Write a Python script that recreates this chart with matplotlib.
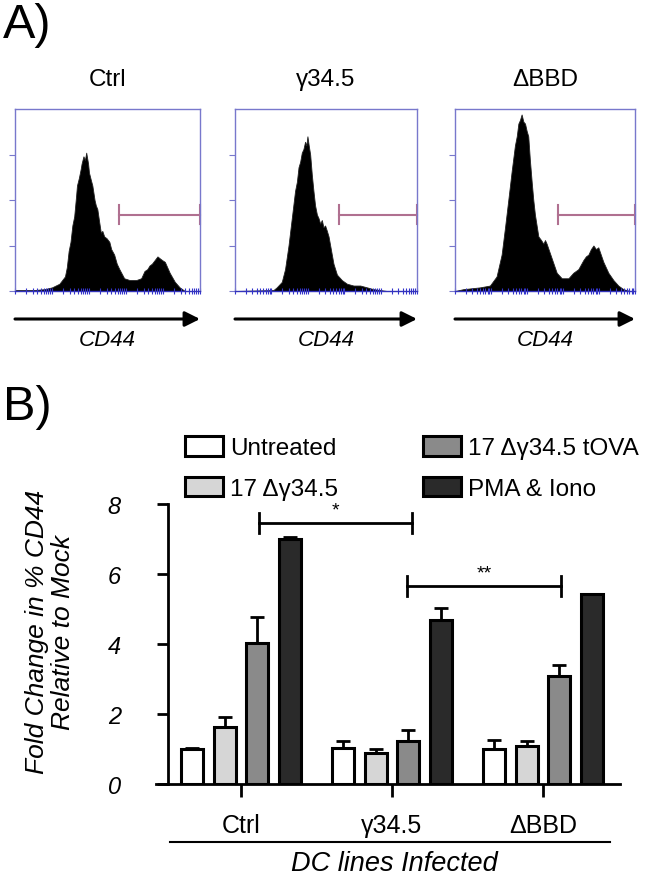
import numpy as np
import matplotlib
matplotlib.use("Agg")
import matplotlib.pyplot as plt
from matplotlib.lines import Line2D

plt.rcParams['font.family'] = ['Liberation Sans', 'DejaVu Sans']

# ---------------- data: panel A histograms (fraction of axis, relative count) ----------
hist_titles = ["Ctrl", "γ34.5", "ΔBBD"]
ctrl_x = [0.00, 0.10, 0.16, 0.20, 0.24, 0.27, 0.28, 0.29, 0.30, 0.31, 0.32, 0.33, 0.335, 0.345,
          0.355, 0.36, 0.37, 0.378, 0.385, 0.39, 0.395, 0.40, 0.41, 0.418, 0.43, 0.437, 0.445,
          0.455, 0.464, 0.472, 0.482, 0.495, 0.51, 0.52, 0.536, 0.55, 0.564, 0.59, 0.62, 0.655,
          0.682, 0.70, 0.715, 0.727, 0.74, 0.755, 0.77, 0.782, 0.795, 0.81, 0.836, 0.864, 0.89,
          0.918, 1.0]
ctrl_y = [0.005, 0.005, 0.01, 0.02, 0.04, 0.08, 0.13, 0.22, 0.27, 0.36, 0.41, 0.52, 0.58, 0.62,
          0.67, 0.70, 0.74, 0.72, 0.76, 0.73, 0.70, 0.65, 0.61, 0.58, 0.50, 0.47, 0.45,
          0.38, 0.32, 0.33, 0.30, 0.29, 0.27, 0.23, 0.20, 0.15, 0.12, 0.07, 0.06, 0.06,
          0.07, 0.11, 0.12, 0.14, 0.15, 0.17, 0.19, 0.18, 0.17, 0.16, 0.10, 0.05, 0.02,
          0.0, 0.0]
g345_x = [0.00, 0.211, 0.229, 0.257, 0.275, 0.294, 0.312, 0.330, 0.340, 0.349, 0.358, 0.367,
          0.376, 0.385, 0.392, 0.398, 0.405, 0.413, 0.422, 0.431, 0.440, 0.450, 0.459, 0.468,
          0.477, 0.486, 0.495, 0.505, 0.514, 0.523, 0.541, 0.560, 0.587, 0.615, 0.651,
          0.688, 0.725, 0.761, 0.798, 0.835, 1.0]
g345_y = [0.0, 0.005, 0.02, 0.05, 0.12, 0.25, 0.40, 0.55, 0.60, 0.68, 0.71, 0.76,
          0.78, 0.82, 0.80, 0.85, 0.80, 0.75, 0.64, 0.55, 0.47, 0.42, 0.40, 0.37,
          0.39, 0.35, 0.36, 0.33, 0.30, 0.25, 0.15, 0.09, 0.06, 0.04, 0.03,
          0.03, 0.02, 0.01, 0.005, 0.0, 0.0]
bbd_x = [0.00, 0.046, 0.139, 0.194, 0.231, 0.259, 0.278, 0.296, 0.315, 0.333, 0.343, 0.352,
         0.361, 0.370, 0.380, 0.389, 0.398, 0.407, 0.416, 0.426, 0.435, 0.444, 0.463, 0.478,
         0.491, 0.500, 0.509, 0.537, 0.565, 0.593, 0.630, 0.657, 0.685, 0.713, 0.727, 0.741,
         0.755, 0.769, 0.783, 0.796, 0.824, 0.852, 0.880, 0.907, 0.935, 0.972, 1.0]
bbd_y = [0.0, 0.01, 0.02, 0.03, 0.08, 0.20, 0.35, 0.50, 0.66, 0.80, 0.85, 0.92,
         0.94, 0.97, 0.93, 0.92, 0.88, 0.85, 0.72, 0.60, 0.50, 0.42, 0.30, 0.28,
         0.26, 0.28, 0.26, 0.18, 0.10, 0.07, 0.07, 0.10, 0.12, 0.17, 0.19, 0.20,
         0.23, 0.25, 0.23, 0.24, 0.16, 0.10, 0.06, 0.03, 0.01, 0.0, 0.0]
gate_start = [0.56, 0.57, 0.57]
gate_level = 0.42

# ---------------- data: panel B bar chart ----------------
groups = ["Ctrl", "γ34.5", "ΔBBD"]
series = ["Untreated", "17 Δγ34.5", "17 Δγ34.5 tOVA", "PMA & Iono"]
untreated = [1.0, 1.02, 1.0]
untreated_err = [0.02, 0.2, 0.25]
d345 = [1.62, 0.88, 1.08]
d345_err = [0.3, 0.12, 0.15]
d345_tova = [4.02, 1.23, 3.08]
d345_tova_err = [0.75, 0.32, 0.33]
pma = [7.0, 4.7, 5.42]
pma_err = [0.05, 0.33, 0.0]
brackets = [(0.12, 1.13, 7.46, "*"), (1.10, 2.12, 5.66, "**")]

W, H = 650, 879
fig = plt.figure(figsize=(W / 100, H / 100), dpi=100)

def fx(px):
    return px / W

def fy(py):
    return 1 - py / H

# ---------- Panel A ----------
boxes = [(15, 200), (235, 417), (455, 635)]
top_px, bot_px = 110, 292
hists = [(ctrl_x, ctrl_y), (g345_x, g345_y), (bbd_x, bbd_y)]
spine_col = "#7878cc"
minor_pos = [d / 5 + np.log10(k) / 5 for d in range(5) for k in range(1, 10)] + [1.0]
for i, ((l, r), (hx, hy)) in enumerate(zip(boxes, hists)):
    ax = fig.add_axes([fx(l), fy(bot_px), fx(r - l), (bot_px - top_px) / H])
    ax.fill_between(hx, hy, 0, color="black", lw=0.6, edgecolor="#222222")
    ax.set_xlim(0, 1)
    ax.set_ylim(0, 1)
    for s in ax.spines.values():
        s.set_color(spine_col)
        s.set_linewidth(1.0)
    ax.spines['bottom'].set_color("#3333bb")
    ax.set_yticks([0, 0.25, 0.5, 0.75])
    ax.set_yticklabels([])
    ax.tick_params(axis='y', length=4, color=spine_col, width=0.8)
    ax.set_xticks(minor_pos)
    ax.set_xticklabels([])
    ax.tick_params(axis='x', direction='inout', length=4, color="#3333cc", width=0.8)
    g0 = gate_start[i]
    ax.plot([g0, 1.0], [gate_level, gate_level], color="#b07090", lw=1.5, clip_on=False)
    ax.plot([g0, g0], [gate_level - 0.05, gate_level + 0.05], color="#b07090", lw=1.5, clip_on=False)
    ax.plot([1.0, 1.0], [gate_level - 0.05, gate_level + 0.05], color="#b07090", lw=1.5, clip_on=False)
    ax.text(0.5, 1 + 30 / 182, hist_titles[i], transform=ax.transAxes, ha='center', va='center',
            fontsize=17.5)
    ax.annotate("", xy=(1.0, -28 / 182), xytext=(0.0, -28 / 182), xycoords='axes fraction',
                arrowprops=dict(arrowstyle='-|>,head_length=0.9,head_width=0.45', lw=2.2, color='black',
                                shrinkA=0, shrinkB=0))
    ax.text(0.5, -48 / 182, "CD44", transform=ax.transAxes, ha='center', va='center',
            fontsize=16, style='italic')

fig.text(fx(3), fy(26), "A)", fontsize=35, ha='left', va='center')
fig.text(fx(3), fy(408), "B)", fontsize=35, ha='left', va='center')

# ---------- Panel B ----------
axl, axr = 156, 620
y0_px, y8_px = 785, 505
axb = fig.add_axes([fx(axl), fy(y0_px), fx(axr - axl), (y0_px - y8_px) / H])
x_off = 0.563
axb.set_xlim(-x_off, -x_off + (axr - axl) / 151)
axb.set_ylim(0, 8)
x = np.arange(len(groups))
bw = 0.146
step = 0.216
colors = ["white", "#d6d6d6", "#8a8a8a", "#2a2a2a"]
vals = [untreated, d345, d345_tova, pma]
errs = [untreated_err, d345_err, d345_tova_err, pma_err]
handles = []
for k in range(4):
    pos = x + (k - 1.5) * step
    b = axb.bar(pos, vals[k], bw, color=colors[k], edgecolor='black', linewidth=2.2,
                label=series[k], zorder=3)
    axb.errorbar(pos, vals[k], yerr=[np.zeros(3), errs[k]], fmt='none', ecolor='black',
                 elinewidth=2, capsize=5, capthick=2, zorder=2)
    handles.append(b)

for xa, xb, yb, lab in brackets:
    axb.plot([xa, xb], [yb, yb], color='black', lw=2, clip_on=False)
    for xe in (xa, xb):
        axb.plot([xe, xe], [yb - 0.28, yb + 0.28], color='black', lw=2, clip_on=False)
    axb.text((xa + xb) / 2, yb + 0.12, lab, ha='center', va='bottom', fontsize=14)

for s in ['top', 'right']:
    axb.spines[s].set_visible(False)
axb.spines['left'].set_position(('axes', (168 - axl) / (axr - axl)))
axb.spines['left'].set_linewidth(2)
axb.spines['bottom'].set_linewidth(2)
axb.set_yticks([0, 2, 4, 6, 8])
axb.set_yticklabels(["0", "2", "4", "6", "8"], fontsize=17, style='italic')
axb.tick_params(axis='y', length=8, width=2, pad=26)
axb.set_xticks(x)
axb.set_xticklabels(groups, fontsize=18)
axb.tick_params(axis='x', length=9, width=2, pad=12)

fig.text(fx(50), fy(632), "Fold Change in % CD44\nRelative to Mock", rotation=90, fontsize=19,
         style='italic', ha='center', va='center', linespacing=1.1)

fig.add_artist(Line2D([fx(170), fx(610)], [fy(843), fy(843)], color='black', lw=1.5))
fig.text(fx(394), fy(864), "DC lines Infected", fontsize=19.5, style='italic', ha='center', va='center')

leg = axb.legend(handles=handles, labels=series, ncol=2, frameon=False, fontsize=17.5,
                 loc='upper left', bbox_to_anchor=((185 - axl) / (axr - axl), 1 + (505 - 437) / 280),
                 handlelength=1.55, handleheight=0.86, handletextpad=0.3, labelspacing=0.72,
                 columnspacing=3.5, borderaxespad=0, borderpad=0)

fig.savefig("out.png", dpi=100)
